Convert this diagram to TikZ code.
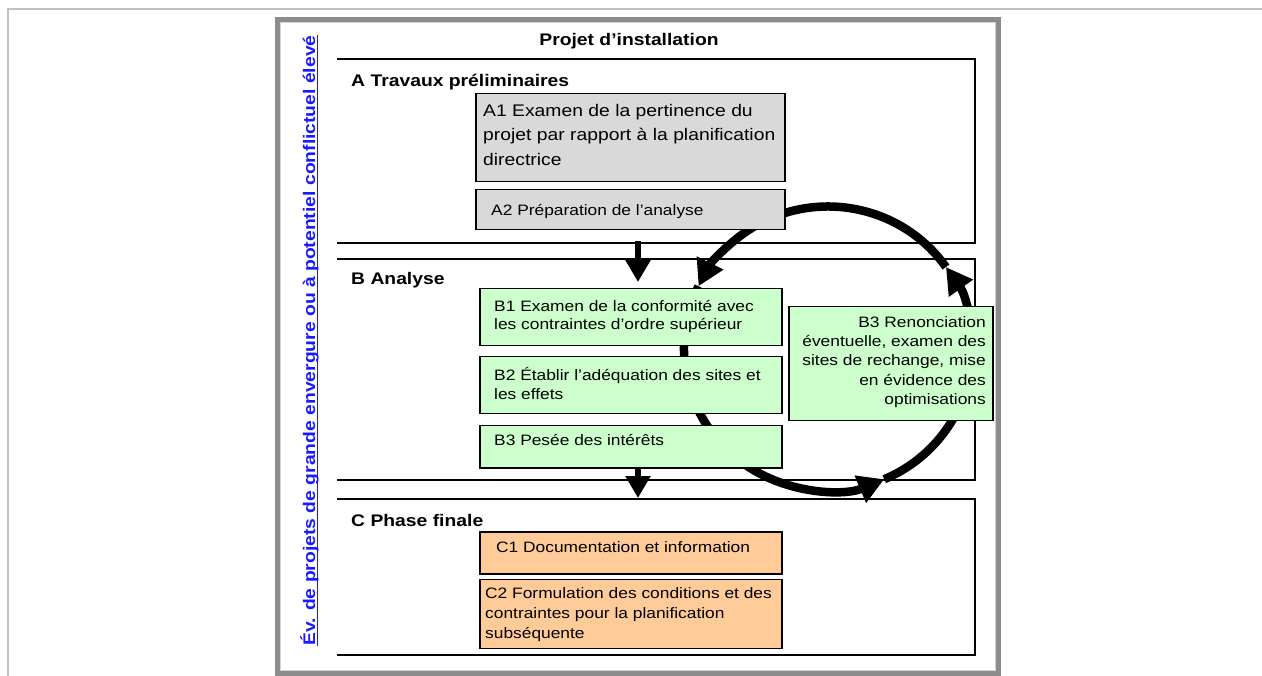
\documentclass[tikz,border=0pt]{standalone}
\usepackage{fontspec}
\setmainfont{Liberation Sans}[FakeStretch=1.15]
\usepackage{xcolor}
\usetikzlibrary{arrows.meta}

\definecolor{prepgray}{HTML}{D9D9D9}
\definecolor{analgreen}{HTML}{CCFFCC}
\definecolor{finorange}{HTML}{FFCC99}
\definecolor{framegray}{HTML}{8C8C8C}
\definecolor{edgegray}{HTML}{C0C0C0}
\definecolor{evblue}{HTML}{1A1AFF}

\begin{document}
\begin{tikzpicture}[x=1pt, y=1pt,
    every node/.style={inner sep=0pt, font=\fontsize{15.1pt}{19.5pt}\selectfont},
    stage/.style={draw, line width=1.5pt, anchor=north west},
    prep/.style={stage, fill=prepgray},
    anal/.style={stage, fill=analgreen},
    fin/.style={stage, fill=finorange},
    txt/.style={anchor=base west, align=left},
    leading/.style={font=\fontsize{15.1pt}{#1}\selectfont},
    head/.style={font=\fontsize{16.8pt}{19.5pt}\selectfont\bfseries},
    sect/.style={line width=1.2pt},
    flow/.style={line width=6pt, -{Triangle[length=22pt, width=24pt]}},
    turn/.style={line width=8.5pt, -{Triangle[length=26pt, width=28pt]}}]
    \useasboundingbox (0,0) rectangle (1262,-676);

    % Page edge and frame
    \draw[edgegray, line width=1.8pt] (8,-676) -- (8,-9) -- (1262,-9);
    \draw[framegray, line width=5pt] (277.5,-19.5) rectangle (998.5,-673.5);
    \draw[edgegray!70, line width=1pt] (280.5,-22.5) rectangle (995.5,-670.5);

    % Phase sections (open on the left)
    \draw[sect] (337,-59) -- (975,-59) -- (975,-243) -- (337,-243);
    \draw[sect] (337,-259) -- (975,-259) -- (975,-480) -- (337,-480);
    \draw[sect] (337,-499) -- (975,-499) -- (975,-655) -- (337,-655);

    % Headings
    \node[head, anchor=base] (title) at (629,-46) {Projet d'installation};
    \node[head, anchor=base west] (secA) at (351,-86.5) {A Travaux préliminaires};
    \node[head, anchor=base west] (secB) at (351,-284.5) {B Analyse};
    \node[head, anchor=base west] (secC) at (351,-526) {C Phase finale};

    % Vertical caption
    \node[head, text=evblue, rotate=90, anchor=base] (ev) at (315,-340.5) {Év. de projets de grande envergure ou à potentiel conflictuel élevé};
    \draw[evblue, line width=1.2pt] ([xshift=2.5pt]ev.base west) -- ([xshift=2.5pt]ev.base east);

    % Feedback loop
    \coordinate (hub) at (828,-348.5);
    \foreach \a/\b in {35/154, 154/293, 293/395}
        \draw[turn] ([shift={(\a:144 and 142)}]hub) arc[start angle=\a, end angle=\b, x radius=144, y radius=142];

    % Boxes
    \node[prep, minimum width=309pt, minimum height=88pt] (a1) at (475,-93) {};
    \node[prep, minimum width=309pt, minimum height=40pt] (a2) at (475,-189) {};
    \node[anal, minimum width=302pt, minimum height=57pt] (b1) at (479,-288) {};
    \node[anal, minimum width=302pt, minimum height=57pt] (b2) at (479,-356) {};
    \node[anal, minimum width=302pt, minimum height=42pt] (b3) at (479,-425) {};
    \node[anal, minimum width=204pt, minimum height=114pt] (b4) at (788,-306) {};
    \node[fin, minimum width=302pt, minimum height=42pt] (c1) at (479,-531) {};
    \node[fin, minimum width=302pt, minimum height=69pt] (c2) at (479,-578.5) {};

    % Phase arrows
    \coordinate (aend) at (638,-241);
    \coordinate (ctop) at (638,-498);
    \draw[flow] (aend) -- ([yshift=6pt]b1.north -| aend);
    \draw[flow] (b3.south -| aend) -- (ctop);

    % Box texts (base = baseline of the last line)
    \node[txt, font=\fontsize{16.8pt}{24.3pt}\selectfont] (a1t) at (483,-165.3) {A1 Examen de la pertinence du\\projet par rapport à la planification\\directrice};
    \node[txt] (a2t) at (491,-215.5) {A2 Préparation de l'analyse};
    \node[txt, leading=18pt] (b1t) at (494,-330) {B1 Examen de la conformité avec\\les contraintes d'ordre supérieur};
    \node[txt, leading=19.5pt] (b2t) at (494,-400) {B2 Établir l'adéquation des sites et\\les effets};
    \node[txt] (b3t) at (494,-445.5) {B3 Pesée des intérêts};
    \node[txt, anchor=base east, align=right, leading=19.4pt] (b4t) at (986,-404.8) {B3 Renonciation\\éventuelle, examen des\\sites de rechange, mise\\en évidence des\\optimisations};
    \node[txt] (c1t) at (496,-552.2) {C1 Documentation et information};
    \node[txt, leading=19.8pt] (c2t) at (485,-638.4) {C2 Formulation des conditions et des\\contraintes pour la planification\\subséquente};
\end{tikzpicture}
\end{document}
